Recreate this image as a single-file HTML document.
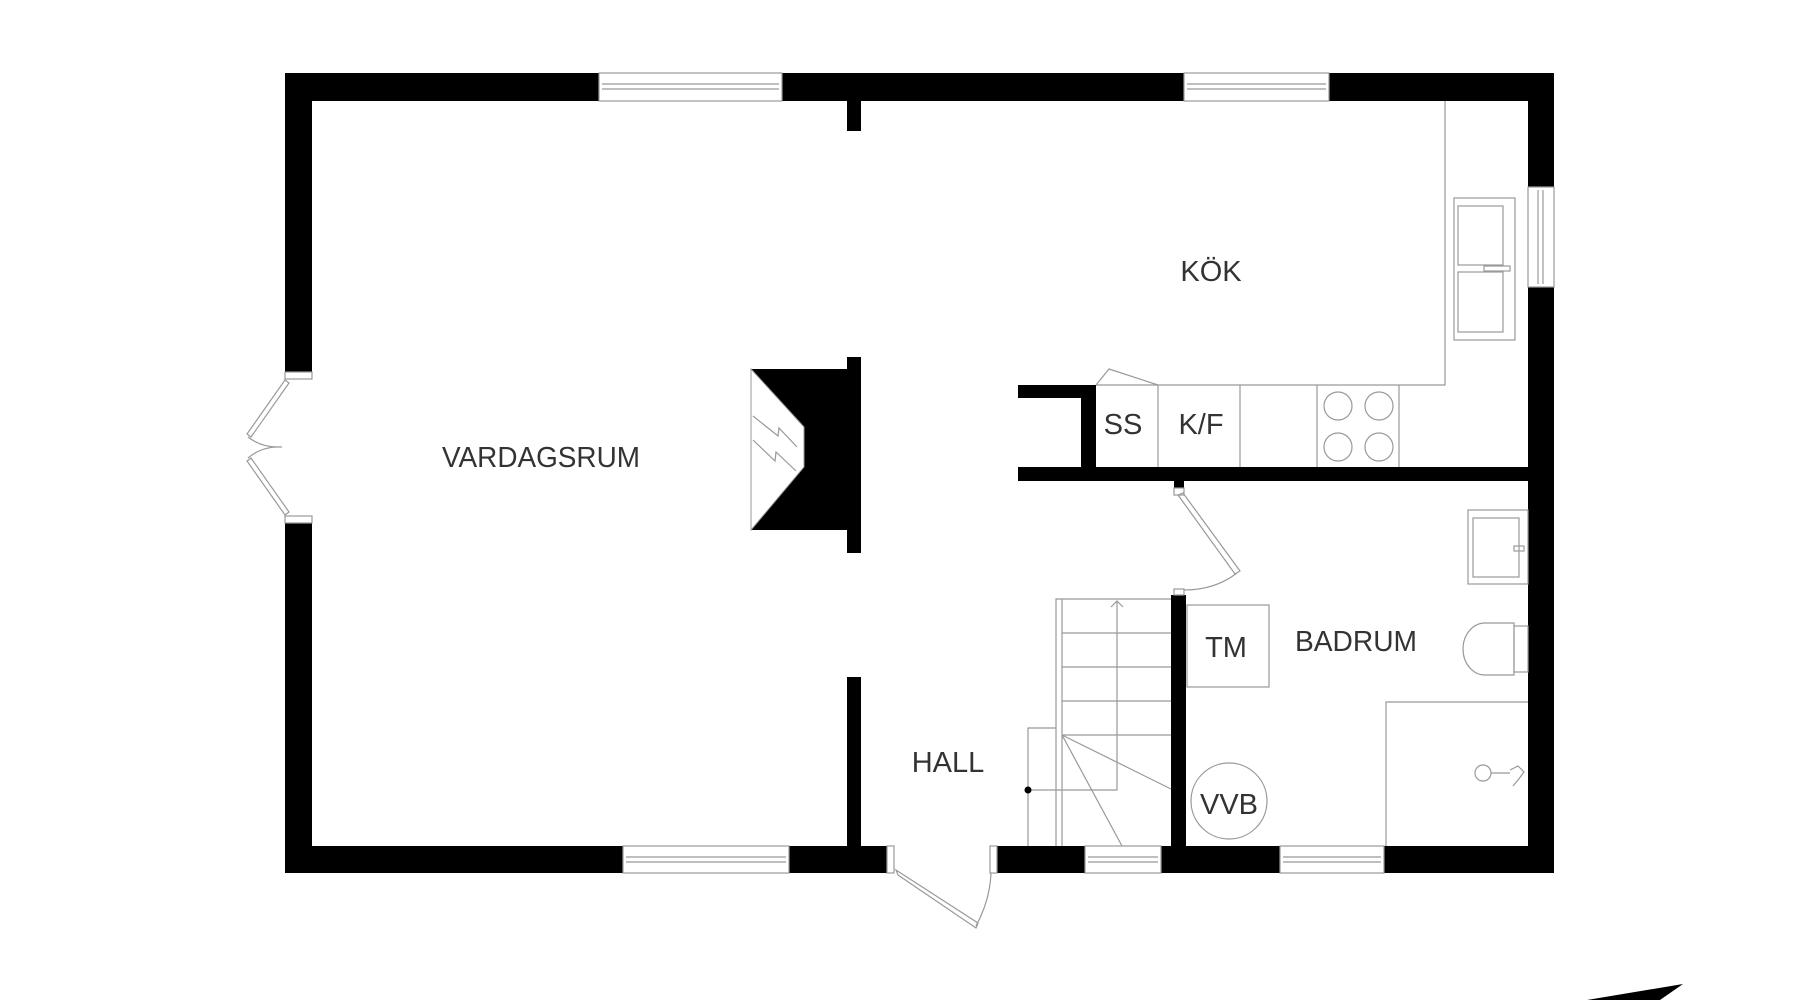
<!DOCTYPE html>
<html><head><meta charset="utf-8"><style>
html,body{margin:0;padding:0;background:#fff;}
svg{display:block;}
text{font-family:"Liberation Sans","DejaVu Sans",sans-serif;font-size:29px;fill:#333;text-anchor:middle;dominant-baseline:central;}
</style></head><body>
<svg width="1800" height="1000" viewBox="0 0 1800 1000" xmlns="http://www.w3.org/2000/svg">
<rect width="1800" height="1000" fill="#fff"/>
<g fill="#000">
<rect x="285" y="73" width="314" height="28"/>
<rect x="782" y="73" width="402" height="28"/>
<rect x="1329" y="73" width="225" height="28"/>
<rect x="285" y="73" width="27" height="299"/>
<rect x="285" y="523" width="27" height="350"/>
<rect x="1528" y="73" width="26" height="114"/>
<rect x="1528" y="287" width="26" height="586"/>
<rect x="285" y="846" width="338" height="27"/>
<rect x="789" y="846" width="98" height="27"/>
<rect x="997" y="846" width="88" height="27"/>
<rect x="1161" y="846" width="119" height="27"/>
<rect x="1384" y="846" width="170" height="27"/>
<rect x="847" y="100" width="14" height="31"/>
<rect x="847" y="357" width="14" height="196"/>
<rect x="847" y="677" width="14" height="170"/>
<rect x="1018" y="385" width="78" height="13"/>
<rect x="1081" y="385" width="15" height="96"/>
<rect x="1018" y="467" width="510" height="14"/>
<rect x="1171" y="595" width="15" height="278"/>
<rect x="1174" y="481" width="10" height="7"/>
<polygon points="751,369 847,369 847,530 751,530 804,467 804,427"/>
</g>
<polygon points="751,369 804,427 804,467 751,530" fill="#fff" stroke="#999" stroke-width="1"/>
<polyline points="753,416 778,436 779,428 797,447" fill="none" stroke="#999" stroke-width="1.2"/>
<polyline points="753,440 775,461 776,452 796,471" fill="none" stroke="#999" stroke-width="1.2"/>

<g fill="none" stroke="#999" stroke-width="1.2">
<rect x="599" y="73" width="183" height="28"/>
<line x1="602" y1="84" x2="779" y2="84"/><line x1="602" y1="89" x2="779" y2="89"/>
<rect x="1184" y="73" width="145" height="28"/>
<line x1="1187" y1="84" x2="1326" y2="84"/><line x1="1187" y1="89" x2="1326" y2="89"/>
<rect x="1528" y="187" width="26" height="100"/>
<line x1="1538" y1="190" x2="1538" y2="284"/><line x1="1543" y1="190" x2="1543" y2="284"/>
<rect x="623" y="846" width="166" height="27"/>
<line x1="626" y1="857" x2="786" y2="857"/><line x1="626" y1="862" x2="786" y2="862"/>
<rect x="1085" y="846" width="76" height="27"/>
<line x1="1088" y1="857" x2="1158" y2="857"/><line x1="1088" y1="862" x2="1158" y2="862"/>
<rect x="1280" y="846" width="104" height="27"/>
<line x1="1283" y1="857" x2="1381" y2="857"/><line x1="1283" y1="862" x2="1381" y2="862"/>
<rect x="285" y="372" width="27" height="7"/>
<rect x="285" y="516" width="27" height="7"/>
<polygon points="285,380 289,383 251,437 247,434"/>
<polygon points="285,515 289,512 251,458 247,461"/>
<path d="M248,437 Q262,448 282,447 Q262,446 248,458"/>
<rect x="887" y="846" width="7" height="27"/>
<rect x="990" y="846" width="7" height="27"/>
<polygon points="896,870 898,875 976,928 978,923"/>
<path d="M976,926 Q990,900 991,873"/>
<rect x="1174" y="488" width="10" height="7"/>
<rect x="1174" y="589" width="10" height="6"/>
<polygon points="1178,495 1183,493 1240,571 1235,574"/>
<path d="M1237,573 Q1215,590 1184,590"/>
<polyline points="1096,385 1445,385 1445,101"/>
<line x1="1158" y1="385" x2="1158" y2="467"/>
<line x1="1240" y1="385" x2="1240" y2="467"/>
<line x1="1317" y1="385" x2="1317" y2="467"/>
<line x1="1399" y1="385" x2="1399" y2="467"/>
<polyline points="1096,385 1109,369 1158,385"/>
<circle cx="1338" cy="406" r="14"/><circle cx="1379" cy="406" r="14"/>
<circle cx="1338" cy="447" r="14"/><circle cx="1379" cy="447" r="14"/>
<rect x="1454" y="198" width="61" height="142"/>
<rect x="1458" y="206" width="45" height="59"/>
<rect x="1458" y="272" width="45" height="60"/>
<rect x="1484" y="266" width="26" height="5"/>
<polyline points="1056,846 1056,599 1171,599"/>
<line x1="1062" y1="599" x2="1062" y2="846"/>
<line x1="1062" y1="633" x2="1171" y2="633"/>
<line x1="1062" y1="667" x2="1171" y2="667"/>
<line x1="1062" y1="701" x2="1171" y2="701"/>
<line x1="1062" y1="735" x2="1171" y2="735"/>
<polyline points="1056,728 1028,728 1028,846"/>
<polyline points="1117,601 1117,790 1028,790"/>
<polyline points="1111,607 1117,601 1123,607"/>
<line x1="1062" y1="735" x2="1171" y2="789"/>
<line x1="1062" y1="735" x2="1122" y2="846"/>
<rect x="1187" y="605" width="82" height="82"/>
<circle cx="1229" cy="801" r="38"/>
<rect x="1468" y="510" width="60" height="74"/>
<rect x="1473" y="518" width="46" height="59"/>
<rect x="1514" y="546" width="10" height="5"/>
<path d="M1514,623 L1485,623 A22,26 0 0 0 1485,675 L1514,675 Z"/>
<rect x="1514" y="626" width="14" height="46"/>
<polyline points="1528,702 1386,702 1386,846"/>
<circle cx="1483" cy="773" r="8"/>
<line x1="1491" y1="773" x2="1510" y2="773"/>
<path d="M1510,770 L1518,766 L1524,772 L1518,780 L1513,786"/>
</g>
<circle cx="1028" cy="790" r="3.5" fill="#000"/>
<polygon points="1587,1000 1683,984 1660,1000" fill="#000"/>

<text x="541" y="458" textLength="198" lengthAdjust="spacingAndGlyphs">VARDAGSRUM</text>
<text x="1211" y="272">KÖK</text>
<text x="948" y="763">HALL</text>
<text x="1123" y="425">SS</text>
<text x="1201" y="425">K/F</text>
<text x="1226" y="648">TM</text>
<text x="1356" y="642" textLength="122" lengthAdjust="spacingAndGlyphs">BADRUM</text>
<text x="1229" y="805">VVB</text>
</svg>
</body></html>
